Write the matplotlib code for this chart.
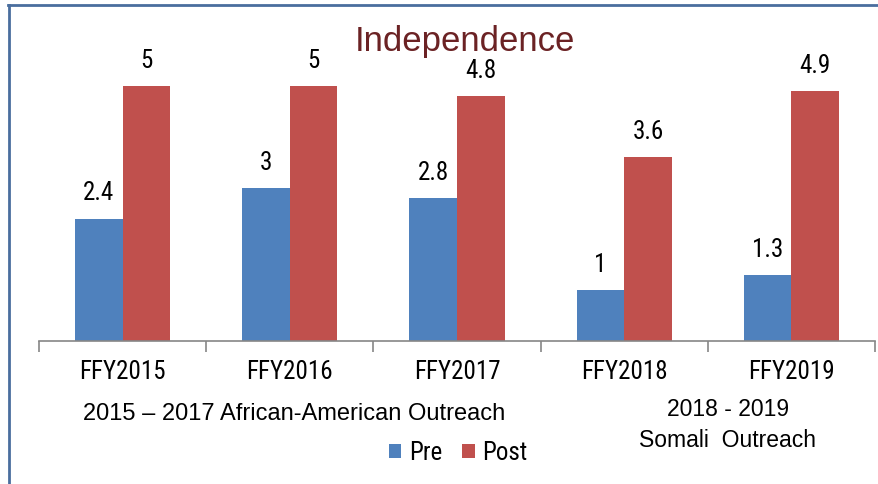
import matplotlib
matplotlib.use('Agg')
import matplotlib.pyplot as plt
from matplotlib import font_manager as fm
from matplotlib.lines import Line2D
import numpy as np

years = ['FFY2015', 'FFY2016', 'FFY2017', 'FFY2018', 'FFY2019']
pre = [2.4, 3, 2.8, 1, 1.3]
post = [5, 5, 4.8, 3.6, 4.9]
pre_labels = ['2.4', '3', '2.8', '1', '1.3']
post_labels = ['5', '5', '4.8', '3.6', '4.9']

blue = '#4F81BD'
red = '#C0504D'

# pick a narrow sans (Arial Narrow look-alike) from what is installed
have = set(f.name for f in fm.fontManager.ttflist)
narrow_pref = ['Liberation Sans Narrow', 'Arial Narrow', 'Nimbus Sans Narrow',
               'Arimo Narrow', 'Roboto Condensed', 'Archivo Narrow', 'Barlow Semi Condensed']
narrow = [n for n in narrow_pref if n in have][:1] + ['Liberation Sans', 'DejaVu Sans']
normal = ['Liberation Sans', 'DejaVu Sans']

fig = plt.figure(figsize=(8.79, 4.84), dpi=100)
ax = fig.add_axes([39 / 879, 1 - 341 / 484, 836 / 879, 312 / 484])

x = np.arange(len(years))
w = 0.285
b1 = ax.bar(x - w / 2, pre, w, color=blue, label='Pre')
b2 = ax.bar(x + w / 2, post, w, color=red, label='Post')

# value labels above the bars
for bars, labs in [(b1, pre_labels), (b2, post_labels)]:
    for rect, lab in zip(bars, labs):
        ax.annotate(lab, (rect.get_x() + rect.get_width() / 2, rect.get_height()),
                    xytext=(0, 9.5), textcoords='offset points', ha='center', va='bottom',
                    fontsize=18, family=narrow, color='black')

ax.set_xlim(-0.5, 4.5)
ax.set_ylim(0, 312 / 51)
ax.set_yticks([])
ax.set_xticks(x)
ax.set_xticklabels(years, fontsize=18, family=narrow)
ax.tick_params(axis='x', which='major', length=0, pad=14)
ax.set_xticks(np.arange(-0.5, 5, 1), minor=True)
ax.tick_params(axis='x', which='minor', length=8, width=1.2, color='#868686', direction='out')
for s in ['left', 'top', 'right']:
    ax.spines[s].set_visible(False)
ax.spines['bottom'].set_color('#868686')
ax.spines['bottom'].set_linewidth(1.2)

fig.text(465 / 879, 1 - 42 / 484, 'Independence', ha='center', va='center',
         fontsize=25, color='#6B2224', family=normal)

fig.text(294 / 879, 1 - 414 / 484, '2015 \u2013 2017 African-American Outreach',
         ha='center', va='center', fontsize=17, family=normal)
fig.text(728 / 879, 1 - 425 / 484, '2018 - 2019\nSomali  Outreach',
         ha='center', va='center', fontsize=16.5, family=normal, linespacing=1.4)

leg = fig.legend(handles=[b1, b2], loc='center', bbox_to_anchor=(458 / 879, 1 - 453 / 484),
                 ncol=2, frameon=False, handlelength=0.5, handleheight=0.5,
                 handletextpad=0.3, columnspacing=0.8, prop={'family': narrow, 'size': 18})

# frame lines (top and left)
fig.add_artist(Line2D([8 / 879, 1], [1 - 5 / 484, 1 - 5 / 484], color='#4A6E9E', lw=2,
                      transform=fig.transFigure))
fig.add_artist(Line2D([9 / 879, 9 / 879], [0, 1 - 5 / 484], color='#4A6E9E', lw=2,
                      transform=fig.transFigure))

fig.savefig('out.png', dpi=100)
